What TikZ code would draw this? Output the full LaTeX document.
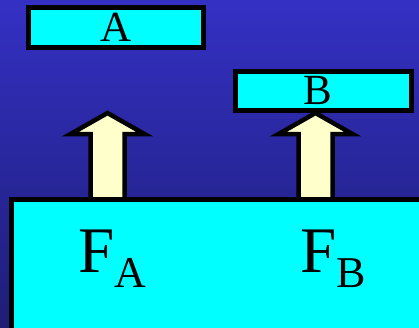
\documentclass[tikz,border=0pt]{standalone}
\usepackage{fontspec}
\setmainfont{Liberation Serif}

\definecolor{bgtop}{RGB}{52,48,196}
\definecolor{bgbottom}{RGB}{30,30,118}
\definecolor{boxcyan}{RGB}{0,255,255}
\definecolor{arrowcream}{RGB}{255,255,204}

\tikzset{
  bodybox/.style={draw=black, line width=4.5pt, fill=boxcyan, inner sep=0pt,
    font=\fontsize{43}{43}\selectfont},
  forcearrow/.style={draw=black, line width=4.5pt, fill=arrowcream, line join=miter},
  forcelabel/.style={inner sep=0pt, anchor=base, font=\fontsize{65}{65}\selectfont}
}

\newcommand{\forcesub}[1]{\raisebox{-15pt}{\fontsize{44}{44}\selectfont #1}}

\begin{document}
\begin{tikzpicture}[x=1pt, y=-1pt]

  \useasboundingbox (0,0) rectangle (419,327);
  \clip (0,0) rectangle (419,327);
  \shade[top color=bgtop, bottom color=bgbottom] (0,0) rectangle (419,327);

  % the two bodies
  \node[bodybox, minimum width=175pt, minimum height=40pt] (boxA) at (116,27.5) {A};
  \node[bodybox, minimum width=176pt, minimum height=39pt] (boxB) at (323.5,91) {};
  \node[inner sep=0pt, font=\fontsize{43}{43}\selectfont] (labB) at ([xshift=-6pt, yshift=1pt]boxB.center) {B};

  % force arrows
  \foreach \x in {107.5, 315.5} {
    \draw[forcearrow] (\x,113) -- (\x+37,134) -- (\x+17,134) -- (\x+17,200)
      -- (\x-17,200) -- (\x-17,134) -- (\x-37,134) -- cycle;
  }

  % ground
  \draw[draw=black, line width=4.5pt, fill=boxcyan] (11.5,199.5) rectangle (440,350);
  \node[forcelabel] (forceA) at (112.5,272) {F\forcesub{A}};
  \node[forcelabel] (forceB) at (333.5,272) {F\forcesub{B}};

\end{tikzpicture}
\end{document}
